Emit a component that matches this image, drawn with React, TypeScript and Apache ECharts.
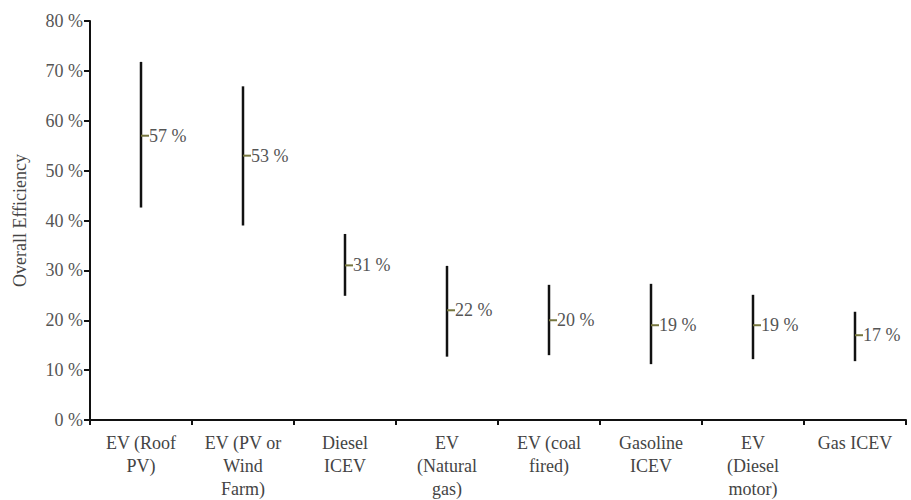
import React, { useEffect, useRef } from "react";
import * as echarts from "echarts";

const categories = [
  "EV (Roof\nPV)",
  "EV (PV or\nWind\nFarm)",
  "Diesel\nICEV",
  "EV\n(Natural\ngas)",
  "EV (coal\nfired)",
  "Gasoline\nICEV",
  "EV\n(Diesel\nmotor)",
  "Gas ICEV",
];
const lows = [42.6, 39.0, 24.9, 12.7, 13.0, 11.2, 12.2, 11.8];
const highs = [71.8, 66.9, 37.3, 30.9, 27.1, 27.3, 25.1, 21.7];
const means = [57, 53, 31, 22, 20, 19, 19, 17];
const yTicks = [0, 10, 20, 30, 40, 50, 60, 70, 80];

export default function App() {
  const ref = useRef<HTMLDivElement>(null);
  useEffect(() => {
    if (!ref.current) return;
    document.body.style.margin = "0";
    document.body.style.overflow = "hidden";
    const chart = echarts.init(ref.current, null, { renderer: "svg" });
    const font = "Liberation Serif";
    chart.setOption({
      animation: false,
      grid: { left: 90, right: 5, top: 21, bottom: 80, containLabel: false, outerBoundsMode: "none" },
      xAxis: {
        type: "category",
        data: categories,
        boundaryGap: true,
        axisLine: { lineStyle: { color: "#111", width: 2 } },
        axisTick: { show: true, length: 5, lineStyle: { color: "#111", width: 2 } },
        axisLabel: {
          interval: 0,
          fontFamily: font,
          fontSize: 18,
          color: "#444",
          lineHeight: 23,
          margin: 11,
        },
      },
      yAxis: {
        type: "value",
        min: 0,
        max: 80,
        interval: 10,
        name: "Overall Efficiency",
        nameLocation: "middle",
        nameGap: 61,
        nameTextStyle: { fontFamily: font, fontSize: 18, color: "#444" },
        axisLine: { show: true, lineStyle: { color: "#111", width: 2 } },
        axisTick: { show: true, length: 6, lineStyle: { color: "#111", width: 2 } },
        splitLine: { show: false },
        axisLabel: {
          fontFamily: font,
          fontSize: 18,
          color: "#555",
          margin: 7,
          formatter: (v: number) => (yTicks.includes(v) ? v + " %" : ""),
        },
      },
      series: [
        {
          type: "custom",
          data: categories.map((_, i) => [i, lows[i], highs[i], means[i]]),
          encode: { x: 0, y: [1, 2, 3] },
          renderItem: (params: any, api: any) => {
            const idx = api.value(0);
            const lo = api.coord([idx, api.value(1)]);
            const hi = api.coord([idx, api.value(2)]);
            const mn = api.coord([idx, api.value(3)]);
            return {
              type: "group",
              children: [
                {
                  type: "line",
                  shape: { x1: lo[0], y1: lo[1], x2: hi[0], y2: hi[1] },
                  style: { stroke: "#111", lineWidth: 2.5 },
                },
                {
                  type: "line",
                  shape: { x1: mn[0], y1: mn[1], x2: mn[0] + 8, y2: mn[1] },
                  style: { stroke: "#76763f", lineWidth: 2 },
                },
                {
                  type: "text",
                  x: mn[0] + 8,
                  y: mn[1],
                  style: {
                    text: api.value(3) + " %",
                    fontFamily: font,
                    fontSize: 18,
                    fill: "#555",
                    verticalAlign: "middle",
                    align: "left",
                  },
                },
              ],
            };
          },
        },
      ],
    });
    return () => chart.dispose();
  }, []);
  return <div ref={ref} style={{ width: 911, height: 500 }} />;
}
